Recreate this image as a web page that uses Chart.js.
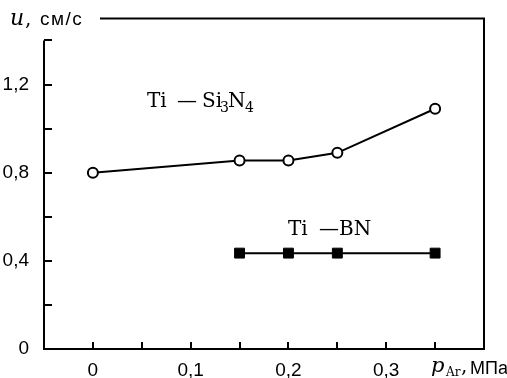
<!DOCTYPE html>
<html><head><meta charset="utf-8">
<script src="https://cdn.jsdelivr.net/npm/chart.js@4"></script>
<style>html,body{margin:0;padding:0;background:#fff}#wrap{width:507px;height:378px;position:relative}</style>
</head><body><div id="wrap"><canvas id="c"></canvas></div>
<script>
// Data
const pressureSiN = [0, 0.15, 0.2, 0.25, 0.35];
const velocitySiN = [0.8, 0.855, 0.855, 0.89, 1.09];
const pressureBN = [0.15, 0.2, 0.25, 0.35];
const velocityBN = [0.435, 0.435, 0.435, 0.435];
const xTickValues = [0, 0.1, 0.2, 0.3];
const xTickLabels = ['0', '0,1', '0,2', '0,3'];
const yTickValues = [0, 0.4, 0.8, 1.2];
const yTickLabels = ['0', '0,4', '0,8', '1,2'];

const INK = '#000';
const SERIF = '"DejaVu Serif"';
const SANS = '"Liberation Sans"';
function labelFor(values, labels, v) {
  const i = values.findIndex(t => Math.abs(t - v) < 1e-9);
  return i >= 0 ? labels[i] : '';
}

const framePlugin = {
  id: 'frame',
  beforeDatasetsDraw(chart) {
    const {ctx, chartArea: a, scales: {x, y}} = chart;
    ctx.save();
    ctx.strokeStyle = INK;
    ctx.lineWidth = 2;
    ctx.lineCap = 'butt';
    const yTop = y.getPixelForValue(1.4);
    ctx.beginPath();
    ctx.moveTo(a.left, yTop); ctx.lineTo(a.left, a.bottom); ctx.lineTo(a.right, a.bottom);
    ctx.lineTo(a.right, a.top); ctx.lineTo(a.left + 56, a.top);
    ctx.stroke();
    // inward tick marks from the library's ticks
    ctx.beginPath();
    x.ticks.forEach(t => {
      if (t.value < -1e-9 || t.value > 0.36) return;
      const px = Math.round(x.getPixelForValue(t.value));
      ctx.moveTo(px, a.bottom); ctx.lineTo(px, a.bottom - 7);
    });
    y.ticks.forEach(t => {
      if (t.value < 0.1 || t.value > 1.41) return;
      const py = Math.round(y.getPixelForValue(t.value));
      ctx.moveTo(a.left, py); ctx.lineTo(a.left + 8, py);
    });
    ctx.stroke();
    ctx.restore();
  },
  afterDraw(chart) {
    const {ctx} = chart;
    ctx.save();
    ctx.fillStyle = INK;
    ctx.textBaseline = 'alphabetic';
    // y axis title
    ctx.font = 'italic 22px ' + SERIF;
    ctx.fillText('u', 10, 25);
    ctx.font = '20px ' + SERIF;
    ctx.fillText(',', 25, 25);
    ctx.font = '19px ' + SANS;
    ctx.letterSpacing = '1.5px';
    ctx.fillText('см/с', 40, 25);
    ctx.letterSpacing = '0px';
    // x axis title
    ctx.font = 'italic 21px ' + SERIF;
    ctx.fillText('p', 431, 372);
    ctx.font = '12px ' + SERIF;
    ctx.fillText('Ar', 446, 376);
    ctx.font = '20px ' + SERIF;
    ctx.fillText(',', 461, 372);
    ctx.font = '18px ' + SANS;
    ctx.fillText('МПа', 470, 374);
    // series labels
    ctx.font = '20px ' + SERIF;
    ctx.fillText('Ti', 147, 107);
    ctx.fillText('—', 177, 107);
    ctx.fillText('Si', 202, 107);
    ctx.fillText('N', 228, 107);
    ctx.font = '14px ' + SERIF;
    ctx.fillText('3', 220, 112);
    ctx.fillText('4', 245, 112);
    ctx.font = '20px ' + SERIF;
    ctx.fillText('Ti', 288, 235);
    ctx.fillText('—BN', 319, 235);
    ctx.restore();
  }
};

new Chart(document.getElementById('c'), {
  type: 'scatter',
  data: {
    datasets: [
      {
        data: pressureSiN.map((p, i) => ({x: p, y: velocitySiN[i]})),
        showLine: true,
        borderColor: INK, borderWidth: 2,
        pointStyle: 'circle', pointRadius: 5, pointBorderWidth: 2,
        pointBackgroundColor: '#fff', pointBorderColor: INK
      },
      {
        data: pressureBN.map((p, i) => ({x: p, y: velocityBN[i]})),
        showLine: true,
        borderColor: INK, borderWidth: 2,
        pointStyle: 'rect', pointRadius: 7, pointBorderWidth: 1,
        pointBackgroundColor: INK, pointBorderColor: INK
      }
    ]
  },
  options: {
    responsive: true, maintainAspectRatio: false, animation: false,
    layout: {padding: {top: 15, right: 23, left: 0, bottom: 0}},
    plugins: {legend: {display: false}, tooltip: {enabled: false}},
    scales: {
      x: {
        type: 'linear', min: -0.05, max: 0.4,
        grid: {display: false}, border: {display: false},
        afterFit(s) { s.height = 29; },
        ticks: {
          stepSize: 0.05, padding: 2, color: INK, maxRotation: 0, autoSkip: false,
          font: {family: SANS, size: 19},
          callback: v => labelFor(xTickValues, xTickLabels, v)
        }
      },
      y: {
        type: 'linear', min: 0, max: 1.5,
        grid: {display: false}, border: {display: false},
        afterFit(s) { s.width = 44; },
        ticks: {
          stepSize: 0.2, includeBounds: false, padding: 7, color: INK, autoSkip: false,
          font: {family: SANS, size: 19},
          callback: v => labelFor(yTickValues, yTickLabels, v)
        }
      }
    }
  },
  plugins: [framePlugin]
});
</script>
</body></html>
